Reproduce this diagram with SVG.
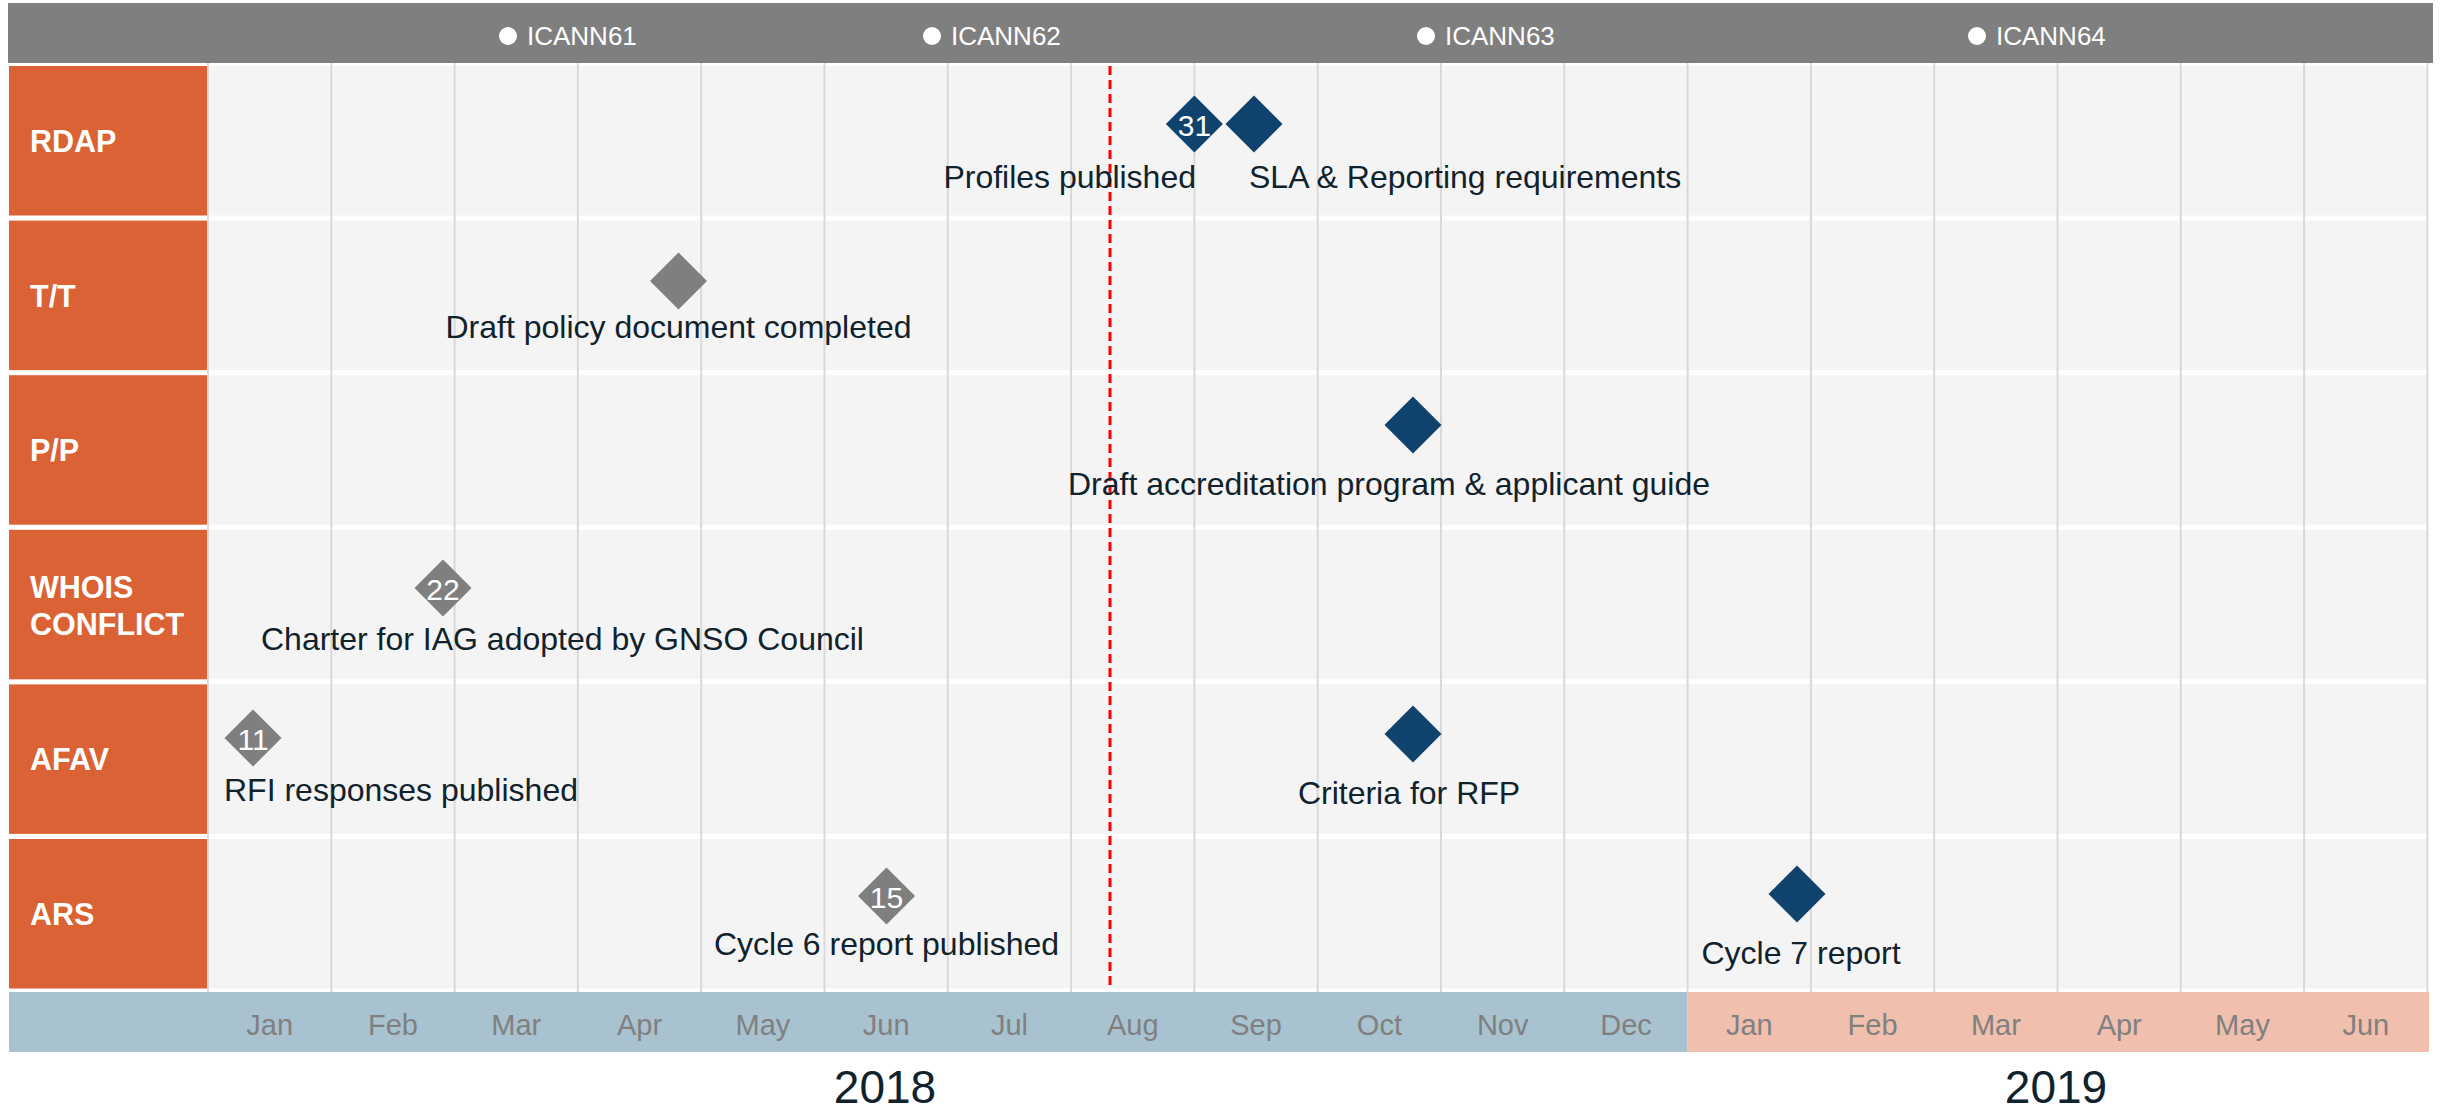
<svg xmlns="http://www.w3.org/2000/svg" width="2443" height="1114" viewBox="0 0 2443 1114">
<defs>
<style>
.hdr{fill:#7f7f7f}
.lab{fill:#db6234}
.cell{fill:#f4f4f4}
.grid{stroke:#d9d9d9;stroke-width:2}
.labt{font-family:"Liberation Sans",Arial,sans-serif;font-weight:bold;font-size:30.5px;fill:#ffffff}
.icann{font-family:"Liberation Sans",Arial,sans-serif;font-size:26px;fill:#ffffff}
.ev{font-family:"Liberation Sans",Arial,sans-serif;font-size:32px;fill:#10222c}
.num{font-family:"Liberation Sans",Arial,sans-serif;font-size:30px;fill:#ffffff;text-anchor:middle}
.mon{font-family:"Liberation Sans",Arial,sans-serif;font-size:29px;fill:#808080;text-anchor:middle}
.yr{font-family:"Liberation Sans",Arial,sans-serif;font-size:46px;fill:#10222c;text-anchor:middle}
.navy{fill:#0f426c}
.gray{fill:#7f7f7f}
</style>
<path id="dia" d="M0,-28.5 L28.5,0 L0,28.5 L-28.5,0 Z"/>
</defs>
<rect width="2443" height="1114" fill="#ffffff"/>

<g id="header">
<rect class="hdr" x="8" y="3" width="2425" height="60"/>
<circle cx="508" cy="36" r="9" fill="#fff"/><text class="icann" x="527" y="45">ICANN61</text>
<circle cx="932" cy="36" r="9" fill="#fff"/><text class="icann" x="951" y="45">ICANN62</text>
<circle cx="1426" cy="36" r="9" fill="#fff"/><text class="icann" x="1445" y="45">ICANN63</text>
<circle cx="1977" cy="36" r="9" fill="#fff"/><text class="icann" x="1996" y="45">ICANN64</text>
</g>

<g id="rows">
<g id="row-rdap"><rect class="lab" x="9" y="66" width="199" height="149.5"/><rect class="cell" x="208" y="66" width="2219.4" height="149.5"/><text class="labt" x="30" y="152">RDAP</text></g>
<g id="row-tt"><rect class="lab" x="9" y="220.6" width="199" height="149.5"/><rect class="cell" x="208" y="220.6" width="2219.4" height="149.5"/><text class="labt" x="30" y="307">T/T</text></g>
<g id="row-pp"><rect class="lab" x="9" y="375.2" width="199" height="149.5"/><rect class="cell" x="208" y="375.2" width="2219.4" height="149.5"/><text class="labt" x="30" y="461">P/P</text></g>
<g id="row-whois"><rect class="lab" x="9" y="529.8" width="199" height="149.5"/><rect class="cell" x="208" y="529.8" width="2219.4" height="149.5"/><text class="labt" x="30" y="598">WHOIS</text><text class="labt" x="30" y="635">CONFLICT</text></g>
<g id="row-afav"><rect class="lab" x="9" y="684.4" width="199" height="149.5"/><rect class="cell" x="208" y="684.4" width="2219.4" height="149.5"/><text class="labt" x="30" y="770">AFAV</text></g>
<g id="row-ars"><rect class="lab" x="9" y="839" width="199" height="149.5"/><rect class="cell" x="208" y="839" width="2219.4" height="149.5"/><text class="labt" x="30" y="925">ARS</text></g>
</g>

<g id="gridlines" class="grid">
<line x1="208" y1="63" x2="208" y2="992"/>
<line x1="331.3" y1="63" x2="331.3" y2="992"/>
<line x1="454.6" y1="63" x2="454.6" y2="992"/>
<line x1="577.9" y1="63" x2="577.9" y2="992"/>
<line x1="701.2" y1="63" x2="701.2" y2="992"/>
<line x1="824.5" y1="63" x2="824.5" y2="992"/>
<line x1="947.8" y1="63" x2="947.8" y2="992"/>
<line x1="1071.1" y1="63" x2="1071.1" y2="992"/>
<line x1="1194.4" y1="63" x2="1194.4" y2="992"/>
<line x1="1317.7" y1="63" x2="1317.7" y2="992"/>
<line x1="1441" y1="63" x2="1441" y2="992"/>
<line x1="1564.3" y1="63" x2="1564.3" y2="992"/>
<line x1="1687.6" y1="63" x2="1687.6" y2="992"/>
<line x1="1810.9" y1="63" x2="1810.9" y2="992"/>
<line x1="1934.2" y1="63" x2="1934.2" y2="992"/>
<line x1="2057.5" y1="63" x2="2057.5" y2="992"/>
<line x1="2180.8" y1="63" x2="2180.8" y2="992"/>
<line x1="2304.1" y1="63" x2="2304.1" y2="992"/>
<line x1="2427.4" y1="63" x2="2427.4" y2="992"/>
</g>

<g id="timeline">
<rect x="9" y="992" width="1678.6" height="60" fill="#a9c2cf"/>
<rect x="1687.6" y="992" width="741.4" height="60" fill="#f0bfae"/>
<text class="mon" x="269.7" y="1035">Jan</text>
<text class="mon" x="393" y="1035">Feb</text>
<text class="mon" x="516.3" y="1035">Mar</text>
<text class="mon" x="639.6" y="1035">Apr</text>
<text class="mon" x="762.9" y="1035">May</text>
<text class="mon" x="886.2" y="1035">Jun</text>
<text class="mon" x="1009.5" y="1035">Jul</text>
<text class="mon" x="1132.8" y="1035">Aug</text>
<text class="mon" x="1256.1" y="1035">Sep</text>
<text class="mon" x="1379.4" y="1035">Oct</text>
<text class="mon" x="1502.7" y="1035">Nov</text>
<text class="mon" x="1626" y="1035">Dec</text>
<text class="mon" x="1749.3" y="1035">Jan</text>
<text class="mon" x="1872.6" y="1035">Feb</text>
<text class="mon" x="1995.9" y="1035">Mar</text>
<text class="mon" x="2119.2" y="1035">Apr</text>
<text class="mon" x="2242.5" y="1035">May</text>
<text class="mon" x="2365.8" y="1035">Jun</text>
<text class="yr" x="885" y="1103">2018</text>
<text class="yr" x="2056" y="1103">2019</text>
</g>

<g id="connectors">
<line x1="1110" y1="66" x2="1110" y2="990" stroke="#ff0000" stroke-width="3" stroke-dasharray="9,5"/>
</g>

<g id="m-rdap-profiles"><use href="#dia" class="navy" x="1194.4" y="124"/><text class="num" x="1194.4" y="136">31</text><text class="ev" x="1196" y="188" text-anchor="end">Profiles published</text></g>
<g id="m-rdap-sla"><use href="#dia" class="navy" x="1254" y="124"/><text class="ev" x="1249" y="188">SLA &amp; Reporting requirements</text></g>
<g id="m-tt-draft"><use href="#dia" class="gray" x="678.5" y="281"/><text class="ev" x="678.5" y="338" text-anchor="middle">Draft policy document completed</text></g>
<g id="m-pp-draft"><use href="#dia" class="navy" x="1413" y="425"/><text class="ev" x="1389" y="495" text-anchor="middle">Draft accreditation program &amp; applicant guide</text></g>
<g id="m-whois-charter"><use href="#dia" class="gray" x="443" y="588"/><text class="num" x="443" y="600">22</text><text class="ev" x="261" y="650">Charter for IAG adopted by GNSO Council</text></g>
<g id="m-afav-rfi"><use href="#dia" class="gray" x="253" y="738"/><text class="num" x="253" y="750">11</text><text class="ev" x="224" y="801">RFI responses published</text></g>
<g id="m-afav-criteria"><use href="#dia" class="navy" x="1413" y="734"/><text class="ev" x="1409" y="804" text-anchor="middle">Criteria for RFP</text></g>
<g id="m-ars-cycle6"><use href="#dia" class="gray" x="886.5" y="896"/><text class="num" x="886.5" y="908">15</text><text class="ev" x="886.5" y="955" text-anchor="middle">Cycle 6 report published</text></g>
<g id="m-ars-cycle7"><use href="#dia" class="navy" x="1797" y="894"/><text class="ev" x="1801" y="964" text-anchor="middle">Cycle 7 report</text></g>
</svg>
